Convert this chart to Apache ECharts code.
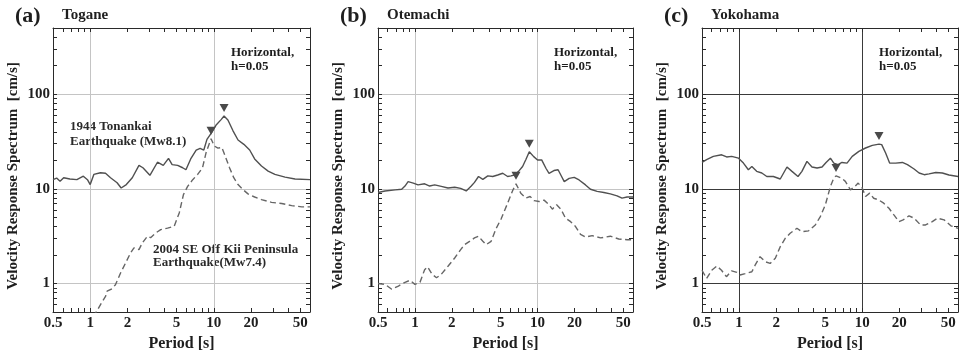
<!DOCTYPE html>
<html>
<head>
<meta charset="utf-8">
<script src="https://cdn.jsdelivr.net/npm/echarts@6/dist/echarts.min.js"></script>
<style>
  html, body { margin: 0; padding: 0; background: #fff; }
  #chart { width: 962px; height: 357px; }
</style>
</head>
<body>
<div id="chart"></div>
<script>
// Velocity response spectra (h = 0.05, horizontal) at three stations.
// Each series: [period (s), velocity response (cm/s)].

const panelLetters = ['(a)', '(b)', '(c)'];
const stationNames = ['Togane', 'Otemachi', 'Yokohama'];

const xTickLabels = [0.5, 1, 2, 5, 10, 20, 50];
const xMinorTicks = [0.6, 0.7, 0.8, 0.9, 1, 2, 3, 4, 5, 6, 7, 8, 9, 10, 20, 30, 40, 50];
const xGridValues = [1, 10];
const yTickLabels = [1, 10, 100];
const yMinorTicks = [0.6, 0.7, 0.8, 0.9, 1, 2, 3, 4, 5, 6, 7, 8, 9, 10, 20, 30, 40, 50, 60, 70, 80, 90, 100, 200, 300, 400];
const yGridValues = [1, 10, 100];

// 1944 Tonankai earthquake (Mw8.1)
const toganeTonankai = [
  [0.5, 12.5], [0.535, 13.0], [0.57, 12.0], [0.61, 13.1], [0.685, 12.7], [0.78, 12.5],
  [0.88, 13.6], [0.95, 12.5], [1.0, 11.1], [1.07, 14.2], [1.21, 14.8], [1.33, 14.6],
  [1.46, 13.1], [1.65, 11.6], [1.78, 10.2], [1.96, 11.1], [2.19, 13.1], [2.48, 17.7],
  [2.67, 16.7], [3.04, 13.9], [3.5, 19.1], [3.9, 17.7], [4.3, 21.0], [4.6, 18.0],
  [5.1, 17.7], [5.6, 16.7], [5.95, 15.9], [6.5, 20.7], [7.2, 25.7], [7.75, 26.8],
  [8.3, 25.7], [8.8, 33.3], [9.6, 39.2], [10.4, 46.9], [11.5, 54.2], [12.1, 58.8],
  [13.0, 53.4], [14.3, 41.0], [15.7, 32.8], [17.5, 29.5], [19.5, 25.7], [21.4, 20.7],
  [24.3, 17.4], [27.5, 15.4], [31.2, 14.2], [37.7, 13.3], [45.4, 12.7], [60, 12.5]
];
// 2004 SE Off Kii Peninsula earthquake (Mw7.4)
const toganeKii = [
  [1.05, 0.45], [1.13, 0.51], [1.23, 0.62], [1.33, 0.73], [1.37, 0.83], [1.5, 0.88],
  [1.6, 0.97], [1.76, 1.29], [1.93, 1.64], [2.12, 2.1], [2.26, 2.38], [2.48, 2.28],
  [2.64, 2.68], [2.9, 3.15], [3.08, 3.05], [3.39, 3.42], [3.72, 3.71], [4.22, 3.85],
  [4.78, 4.02], [5.25, 5.56], [5.68, 8.7], [6.14, 10.6], [6.75, 12.5], [7.4, 14.2],
  [8.1, 16.7], [8.65, 24.0], [9.5, 33.8], [10.1, 28.3], [10.8, 26.9], [11.6, 27.4],
  [12.2, 23.2], [13.4, 16.7], [14.5, 13.1], [15.7, 11.1], [17.2, 9.83], [18.9, 8.85],
  [21.4, 8.2], [24.3, 7.7], [29.3, 7.2], [35.4, 7.0], [42.7, 6.65], [51.5, 6.45], [60, 6.45]
];

const otemachiTonankai = [
  [0.5, 9.15], [0.57, 9.5], [0.69, 9.76], [0.78, 9.9], [0.83, 10.7], [0.88, 11.9],
  [0.97, 11.5], [1.06, 11.0], [1.2, 11.3], [1.32, 10.7], [1.45, 11.0], [1.64, 10.6],
  [1.86, 10.2], [2.11, 10.4], [2.36, 10.1], [2.62, 9.5], [2.88, 10.7], [3.06, 11.7],
  [3.3, 13.5], [3.58, 12.6], [3.93, 13.7], [4.31, 13.5], [4.73, 14.0], [5.2, 14.6],
  [5.7, 13.5], [6.07, 13.7], [6.47, 14.0], [6.97, 15.2], [7.55, 17.2], [8.05, 20.5],
  [8.56, 24.7], [9.3, 21.9], [10.0, 20.2], [10.8, 20.2], [11.7, 16.5], [12.4, 14.6],
  [13.6, 15.6], [14.7, 15.9], [15.7, 13.5], [16.5, 11.9], [18.1, 12.9], [19.9, 13.2],
  [21.8, 12.4], [24.6, 11.0], [27.0, 9.9], [30.6, 9.4], [34.7, 9.15], [39.2, 8.86],
  [44.5, 8.44], [48.8, 7.98], [53.7, 8.2], [60, 8.2]
];
const otemachiKii = [
  [0.5, 1.0], [0.57, 0.98], [0.647, 0.87], [0.733, 0.94], [0.83, 1.03], [0.91, 1.08],
  [1.0, 0.98], [1.1, 1.03], [1.2, 1.4], [1.27, 1.5], [1.38, 1.25], [1.5, 1.15],
  [1.64, 1.25], [1.86, 1.52], [2.11, 1.86], [2.36, 2.28], [2.54, 2.57], [2.79, 2.79],
  [3.06, 3.03], [3.3, 3.16], [3.58, 2.79], [3.81, 2.57], [4.18, 2.79], [4.59, 3.8],
  [5.04, 4.8], [5.71, 7.1], [6.27, 9.6], [6.67, 11.3], [7.3, 9.0], [8.03, 8.0],
  [8.7, 8.3], [9.38, 7.5], [10.3, 7.35], [11.3, 7.6], [12.4, 6.8], [13.2, 6.1],
  [14.3, 6.8], [15.5, 6.1], [16.9, 4.9], [18.6, 4.5], [20.4, 4.0], [22.4, 3.3],
  [24.6, 3.1], [27.9, 3.2], [32.7, 3.03], [39.2, 3.16], [45.9, 2.95], [53.7, 2.9], [60, 2.9]
];

const yokohamaTonankai = [
  [0.5, 19.0], [0.545, 20.3], [0.618, 22.0], [0.722, 22.9], [0.793, 21.7], [0.871, 22.0],
  [0.99, 21.1], [1.085, 18.7], [1.19, 15.9], [1.27, 17.2], [1.39, 15.3], [1.53, 14.7],
  [1.68, 13.5], [1.9, 13.5], [2.16, 12.7], [2.45, 17.0], [2.69, 15.3], [3.01, 13.5],
  [3.24, 15.3], [3.56, 19.5], [3.91, 17.0], [4.3, 16.6], [4.72, 17.0], [5.09, 19.0],
  [5.52, 21.1], [5.88, 18.7], [6.36, 18.0], [6.85, 19.0], [7.53, 18.7], [8.3, 22.0],
  [9.4, 24.9], [10.65, 27.0], [12.08, 28.8], [13.7, 29.7], [14.4, 29.3], [15.5, 23.9],
  [16.7, 18.7], [18.7, 18.7], [21.2, 19.0], [23.3, 18.0], [26.4, 16.2], [29.0, 14.7],
  [31.9, 14.1], [34.9, 14.4], [39.6, 14.9], [44.8, 14.7], [50.7, 14.0], [60, 13.5]
];
const yokohamaKii = [
  [0.5, 1.38], [0.545, 1.13], [0.6, 1.38], [0.66, 1.53], [0.72, 1.38], [0.79, 1.18],
  [0.87, 1.36], [0.96, 1.31], [1.02, 1.23], [1.12, 1.27], [1.27, 1.33], [1.35, 1.56],
  [1.48, 1.92], [1.63, 1.7], [1.79, 1.63], [1.97, 1.85], [2.16, 2.45], [2.37, 3.0],
  [2.6, 3.39], [2.95, 3.83], [3.24, 3.53], [3.67, 3.6], [4.16, 4.15], [4.57, 5.09],
  [5.02, 6.76], [5.52, 10.6], [5.88, 13.0], [6.13, 13.7], [6.78, 13.0], [7.3, 12.0],
  [8.03, 9.76], [8.72, 10.6], [9.28, 11.5], [10.0, 10.2], [10.65, 8.3], [11.5, 9.0],
  [12.4, 7.96], [13.6, 7.64], [14.96, 7.05], [16.5, 6.24], [18.1, 5.3], [19.9, 4.51],
  [21.5, 4.7], [24.0, 5.18], [26.4, 4.9], [29.8, 4.15], [32.7, 4.15], [37.1, 4.51],
  [40.9, 4.9], [46.3, 4.7], [52.5, 4.07], [60, 3.83]
];

const solidSeries = [toganeTonankai, otemachiTonankai, yokohamaTonankai];
const dashedSeries = [toganeKii, otemachiKii, yokohamaKii];

const SERIF = "'Liberation Serif', 'Times New Roman', 'DejaVu Serif', serif";
const frameColor = '#2a2a2a';
const textColor = '#1e1e1e';
const gridRects = [
  { left: 53, top: 28, width: 257, height: 284 },
  { left: 378, top: 28, width: 255, height: 284 },
  { left: 702, top: 28, width: 256, height: 284 }
];
const gridLineColors = ['#c4c4c4', '#c4c4c4', '#3a3a3a'];

function fmt(v) { return String(+(+v).toPrecision(3)); }

const grids = [], xAxes = [], yAxes = [], series = [], graphics = [];

gridRects.forEach(function (r, g) {
  grids.push(Object.assign({ containLabel: false }, r));
  const tickStyle = { show: true, inside: true, length: 4, lineStyle: { color: frameColor, width: 1 } };
  const lineStyle = { show: true, onZero: false, lineStyle: { color: frameColor, width: 1 } };
  const labelFont = { color: textColor, fontSize: 15, fontWeight: 'bold', fontFamily: SERIF };

  xAxes.push({
    gridIndex: g, type: 'log', logBase: 10, min: 0.5, max: 60, position: 'bottom',
    axisLine: lineStyle,
    axisTick: Object.assign({ customValues: xMinorTicks }, tickStyle),
    axisLabel: Object.assign({ customValues: xTickLabels, margin: 4, formatter: fmt }, labelFont),
    splitLine: { show: false },
    name: 'Period [s]', nameLocation: 'middle', nameGap: 23,
    nameTextStyle: { color: textColor, fontSize: 16, fontWeight: 'bold', fontFamily: SERIF }
  });
  xAxes.push({
    gridIndex: g, type: 'log', logBase: 10, min: 0.5, max: 60, position: 'top',
    axisLine: lineStyle,
    axisTick: Object.assign({ customValues: xMinorTicks }, tickStyle),
    axisLabel: { show: false }, splitLine: { show: false }
  });
  xAxes.push({
    gridIndex: g, type: 'log', logBase: 10, min: 0.5, max: 60, position: 'bottom',
    axisLine: { show: false },
    axisTick: { show: false, customValues: xGridValues },
    axisLabel: { show: false },
    splitLine: { show: true, lineStyle: { color: gridLineColors[g], width: 1 } }
  });

  yAxes.push({
    gridIndex: g, type: 'log', logBase: 10, min: 0.5, max: 500, position: 'left',
    axisLine: lineStyle,
    axisTick: Object.assign({ customValues: yMinorTicks }, tickStyle),
    axisLabel: Object.assign({ customValues: yTickLabels, margin: 3, formatter: fmt }, labelFont),
    splitLine: { show: false }
  });
  yAxes.push({
    gridIndex: g, type: 'log', logBase: 10, min: 0.5, max: 500, position: 'right',
    axisLine: lineStyle,
    axisTick: Object.assign({ customValues: yMinorTicks }, tickStyle),
    axisLabel: { show: false }, splitLine: { show: false }
  });
  yAxes.push({
    gridIndex: g, type: 'log', logBase: 10, min: 0.5, max: 500, position: 'left',
    axisLine: { show: false },
    axisTick: { show: false, customValues: yGridValues },
    axisLabel: { show: false },
    splitLine: { show: true, lineStyle: { color: gridLineColors[g], width: 1 } }
  });

  const peakMark = {
    symbol: 'triangle', symbolRotate: 180, symbolSize: [9, 8], symbolOffset: [0, -8],
    itemStyle: { color: '#4a4a4a' }, label: { show: false },
    data: [{ type: 'max' }]
  };

  series.push({
    type: 'line', xAxisIndex: 3 * g, yAxisIndex: 3 * g, data: solidSeries[g],
    showSymbol: false, symbol: 'none', clip: true, z: 3,
    lineStyle: { color: '#505050', width: 1.4 },
    markPoint: peakMark, animation: false
  });
  series.push({
    type: 'line', xAxisIndex: 3 * g, yAxisIndex: 3 * g, data: dashedSeries[g],
    showSymbol: false, symbol: 'none', clip: true, z: 3,
    lineStyle: { color: '#666666', width: 1.4, type: [6, 3.5] },
    markPoint: peakMark, animation: false
  });

  const left = r.left;
  // vertical axis title
  graphics.push({
    type: 'text', x: left - 40, y: 176, rotation: Math.PI / 2,
    style: {
      text: 'Velocity Response Spectrum  [cm/s]', font: 'bold 15px ' + SERIF,
      fill: textColor, align: 'center', verticalAlign: 'middle'
    }
  });
  // panel heading and damping note
  graphics.push({
    type: 'text', x: left - 38, y: 16,
    style: { text: panelLetters[g], font: 'bold 22px ' + SERIF, fill: textColor, verticalAlign: 'middle' }
  });
  graphics.push({
    type: 'text', x: left + 9, y: 15,
    style: { text: stationNames[g], font: 'bold 15px ' + SERIF, fill: textColor, verticalAlign: 'middle' }
  });
  graphics.push({
    type: 'text', x: left + r.width - 79, y: 53,
    style: { text: 'Horizontal,', font: 'bold 13px ' + SERIF, fill: textColor, verticalAlign: 'middle' }
  });
  graphics.push({
    type: 'text', x: left + r.width - 79, y: 67,
    style: { text: 'h=0.05', font: 'bold 13px ' + SERIF, fill: textColor, verticalAlign: 'middle' }
  });
});

// event labels in panel (a)
[['1944 Tonankai', 70, 127], ['Earthquake (Mw8.1)', 70, 142],
 ['2004 SE Off Kii Peninsula', 153, 250], ['Earthquake(Mw7.4)', 153, 263]].forEach(function (t) {
  graphics.push({
    type: 'text', x: t[1], y: t[2],
    style: { text: t[0], font: 'bold 13px ' + SERIF, fill: '#2a2a2a', verticalAlign: 'middle' }
  });
});

const chart = echarts.init(document.getElementById('chart'), null, { renderer: 'canvas' });
chart.setOption({
  animation: false,
  backgroundColor: '#ffffff',
  grid: grids,
  xAxis: xAxes,
  yAxis: yAxes,
  series: series,
  graphic: graphics
});
</script>
</body>
</html>
